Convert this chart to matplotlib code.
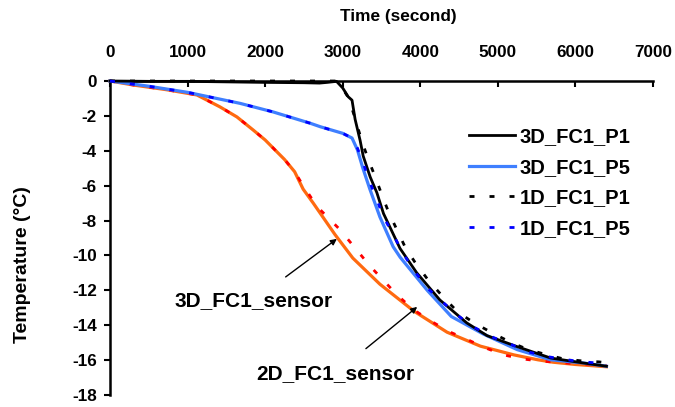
import matplotlib
matplotlib.use("Agg")
import matplotlib.pyplot as plt

plt.rcParams['font.family'] = ['Liberation Sans', 'DejaVu Sans']
plt.rcParams['font.weight'] = 'bold'

# 3D_FC1_P1 (black solid)
p1_3d_t = [0, 500, 1000, 1500, 2000, 2500, 2700, 2800, 2920, 3000, 3070, 3120, 3160, 3224, 3264,
           3354, 3440, 3526, 3739, 3955, 4252, 4600, 4862, 5250, 5680, 6110, 6400]
p1_3d_v = [0, -0.02, -0.02, -0.05, -0.08, -0.1, -0.12, -0.08, -0.02, -0.4, -0.9, -1.1, -2.2, -3.4, -4.3,
           -5.5, -6.4, -7.6, -9.6, -11.0, -12.55, -13.87, -14.6, -15.23, -15.88, -16.17, -16.35]

# 3D_FC1_P5 (blue solid)
p5_3d_t = [0, 500, 1000, 1160, 1675, 2100, 2580, 2710, 3000, 3120, 3190, 3260, 3350, 3480, 3650,
           3740, 4090, 4400, 4810, 5250, 5680, 6110, 6400]
p5_3d_v = [0, -0.3, -0.65, -0.8, -1.28, -1.77, -2.42, -2.62, -3.0, -3.27, -3.95, -5.0, -6.2, -7.8, -9.5,
           -10.1, -12.0, -13.5, -14.5, -15.4, -15.98, -16.17, -16.35]

# 1D_FC1_P1 (black dashed)
p1_1d_t = [0, 1000, 2000, 2900, 2980, 3080, 3170, 3250, 3333, 3419, 3505, 3590, 3700, 3810, 3933,
           4100, 4295, 4490, 4707, 4940, 5174, 5393, 5638, 5845, 6090, 6300, 6400]
p1_1d_v = [0, 0, 0, 0, -0.3, -1.0, -2.3, -3.5, -4.53, -5.5, -6.53, -7.5, -8.54, -9.57, -10.4,
           -11.4, -12.38, -13.27, -13.9, -14.47, -15.0, -15.4, -15.7, -15.93, -16.05, -16.1, -16.15]

# 1D_FC1_P5 (blue dashed)
p5_1d_t = [0, 500, 1000, 1160, 1675, 2100, 2580, 2710, 3000, 3120, 3190, 3264, 3354, 3440, 3526,
           3651, 3780, 3933, 4100, 4295, 4500, 4707, 4940, 5186, 5393, 5638, 5845, 6090, 6300, 6400]
p5_1d_v = [0, -0.3, -0.65, -0.8, -1.28, -1.77, -2.42, -2.62, -3.0, -3.27, -3.85, -4.7, -5.85, -6.8, -7.8,
           -8.8, -9.9, -10.95, -11.9, -12.7, -13.5, -14.15, -14.7, -15.13, -15.53, -15.8, -15.95, -16.1, -16.17, -16.2]

# 3D_FC1_sensor (orange solid)
s3d_t = [0, 300, 730, 1120, 1416, 1636, 1843, 2000, 2250, 2380, 2490, 2620, 2900, 3130, 3480,
         3920, 4345, 4775, 5206, 5514, 5711, 6000, 6400]
s3d_v = [0, -0.23, -0.5, -0.8, -1.48, -2.06, -2.8, -3.38, -4.5, -5.2, -6.2, -7.0, -8.8, -10.15, -11.65,
         -13.2, -14.4, -15.2, -15.7, -15.98, -16.12, -16.25, -16.38]

# 2D_FC1_sensor (red dashed)
s2d_t = [0, 300, 730, 1120, 1416, 1636, 1843, 2000, 2250, 2380, 2490, 2670, 2960, 3350, 3700,
         3910, 4150, 4388, 4620, 4840, 5072, 5315, 5530, 5980, 6400]
s2d_v = [0, -0.23, -0.5, -0.8, -1.48, -2.06, -2.8, -3.38, -4.5, -5.2, -6.0, -7.2, -8.5, -10.6, -12.26,
         -13.1, -13.8, -14.4, -14.85, -15.3, -15.7, -15.93, -16.05, -16.2, -16.3]

x_ticks = [0, 1000, 2000, 3000, 4000, 5000, 6000, 7000]
y_ticks = [0, -2, -4, -6, -8, -10, -12, -14, -16, -18]

W, H = 675, 407
fig = plt.figure(figsize=(W / 100, H / 100), dpi=100)
ax = fig.add_axes([110 / W, (H - 395) / H, (653 - 110) / W, (395 - 81) / H])

dash = (1.8, 5.4)
ax.plot(s3d_t, s3d_v, color='#FF6A10', lw=2.3, clip_on=False, zorder=2)
ax.plot(s2d_t, s2d_v, color='#FF0000', lw=2.0, dashes=dash, clip_on=False, zorder=3)
l1, = ax.plot(p1_3d_t, p1_3d_v, color='black', lw=2.0, clip_on=False, zorder=4, label='3D_FC1_P1')
l2, = ax.plot(p5_3d_t, p5_3d_v, color='#3F7FFF', lw=2.3, clip_on=False, zorder=3, label='3D_FC1_P5')
l3, = ax.plot(p1_1d_t, p1_1d_v, color='black', lw=2.0, dashes=dash, clip_on=False, zorder=5, label='1D_FC1_P1')
l4, = ax.plot(p5_1d_t, p5_1d_v, color='#0000FF', lw=2.0, dashes=dash, clip_on=False, zorder=5, label='1D_FC1_P5')

ax.set_xlim(0, 7000)
ax.set_ylim(-18, 0)
ax.set_xticks(x_ticks)
ax.set_yticks(y_ticks)
ax.set_yticklabels([str(v) for v in y_ticks])
ax.xaxis.tick_top()
ax.spines['bottom'].set_visible(False)
ax.spines['right'].set_visible(False)
ax.spines['top'].set_linewidth(1.8)
ax.spines['left'].set_linewidth(1.8)
ax.tick_params(axis='x', direction='in', length=4.5, width=1.5, pad=15, labelsize=12.3)
ax.tick_params(axis='y', direction='out', length=4.5, width=1.5, pad=5, labelsize=12.3)

fig.text(398 / W, 1 - 17 / H, 'Time (second)', ha='center', va='center', fontsize=12.4, fontweight='bold')
fig.text(23 / W, 1 - 265 / H, 'Temperature (°C)', ha='center', va='center', rotation=90,
         fontsize=14, fontweight='bold')

leg = ax.legend(handles=[l1, l2, l3, l4], loc='upper left', bbox_to_anchor=(455 / W, 1 - 113 / H),
                bbox_transform=fig.transFigure, frameon=False, fontsize=14.5, handlelength=2.3,
                handletextpad=0.2, labelspacing=0.58, borderpad=0.2)

ax.annotate('3D_FC1_sensor', xy=(2925, -9.05), xytext=(1850, -12.6), textcoords='data',
            ha='center', va='center', fontsize=15, fontweight='bold',
            arrowprops=dict(arrowstyle='-|>', color='black', lw=1.0, mutation_scale=9,
                            shrinkA=14, shrinkB=0))
ax.annotate('2D_FC1_sensor', xy=(3960, -12.95), xytext=(2910, -16.75), textcoords='data',
            ha='center', va='center', fontsize=15, fontweight='bold',
            arrowprops=dict(arrowstyle='-|>', color='black', lw=1.0, mutation_scale=9,
                            shrinkA=14, shrinkB=0))

fig.savefig('out.png', dpi=100)
